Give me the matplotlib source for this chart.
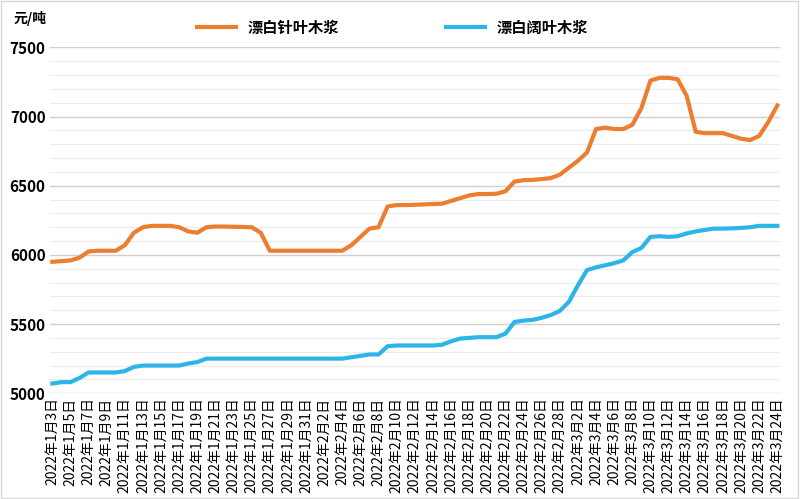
import datetime as dt
import matplotlib.pyplot as plt
import matplotlib.ticker as mticker

plt.rcParams["font.family"] = ["Noto Sans CJK SC", "DejaVu Sans"]

start = dt.date(2022, 1, 3)
dates = [start + dt.timedelta(days=i) for i in range(81)]
labels = ["%d年%d月%d日" % (d.year, d.month, d.day) for d in dates]

# 漂白针叶木浆, daily from 2022-01-03 to 2022-03-24
softwood = [5950, 5955, 5960, 5980, 6025, 6030, 6030, 6030, 6070, 6160,
            6200, 6210, 6210, 6210, 6200, 6170, 6160, 6200, 6205, 6205,
            6203, 6202, 6200, 6160, 6030, 6030, 6030, 6030, 6030, 6030,
            6030, 6030, 6030, 6070, 6130, 6190, 6200, 6350, 6360,
            6360, 6362, 6365, 6368, 6370, 6390, 6410, 6430, 6440, 6440,
            6442, 6460, 6530, 6540, 6542, 6548, 6555, 6580, 6630, 6680,
            6740, 6910, 6920, 6910, 6910, 6940, 7060, 7260, 7280, 7280,
            7270, 7150, 6890, 6880, 6880, 6880, 6860, 6840, 6830, 6860,
            6960, 7080]
# 漂白阔叶木浆
hardwood = [5070, 5080, 5080, 5110, 5150, 5150, 5150, 5150, 5160, 5190,
            5200, 5200, 5200, 5200, 5200, 5215, 5225, 5250, 5250, 5250,
            5250, 5250, 5250, 5250, 5250, 5250, 5250, 5250, 5250, 5250,
            5250, 5250, 5250, 5260, 5270, 5280, 5280, 5340, 5345, 5345,
            5345, 5345, 5345, 5350, 5375, 5395, 5400, 5405, 5405, 5405,
            5430, 5515, 5525, 5530, 5545, 5565, 5595, 5660, 5780, 5890,
            5910, 5925, 5940, 5960, 6020, 6050, 6130, 6135, 6130, 6135,
            6155, 6170, 6180, 6190, 6190, 6192, 6195, 6200, 6210, 6210,
            6210]

fig = plt.figure(figsize=(8, 4.99), dpi=100)
ax = fig.add_axes([0.062, 0.212, 0.913, 0.693])
x = list(range(len(dates)))
ax.plot(x, softwood, color="#ed7d31", lw=3, label="漂白针叶木浆")
ax.plot(x, hardwood, color="#2eb5e8", lw=3, label="漂白阔叶木浆")

ax.set_ylim(5000, 7500)
ax.set_xlim(-0.3, len(x) - 0.7)
ax.yaxis.set_major_locator(mticker.MultipleLocator(500))
ax.yaxis.set_minor_locator(mticker.MultipleLocator(100))
ax.grid(axis="y", which="major", color="#d0d0d0", lw=1)
ax.grid(axis="y", which="minor", color="#ececec", lw=0.8)
ax.set_xticks(x[::2])
ax.set_xticklabels(labels[::2], rotation=90, fontsize=10)
for lab in ax.get_yticklabels():
    lab.set_fontweight("bold")
    lab.set_fontsize(11)
ax.tick_params(which="both", length=0, pad=3)
for s in ax.spines.values():
    s.set_visible(False)
ax.text(-0.05, 1.07, "元/吨", transform=ax.transAxes, fontsize=10, fontweight="bold")
ax.legend(loc="upper center", bbox_to_anchor=(0.47, 1.12), ncol=2, frameon=False,
          prop={"weight": "bold", "size": 11}, columnspacing=7, handlelength=2.5)
fig.patches.append(plt.Rectangle((0.001, 0.002), 0.997, 0.996, transform=fig.transFigure,
                                 fill=False, edgecolor="#d9d9d9", lw=1))
fig.savefig("out.png")
